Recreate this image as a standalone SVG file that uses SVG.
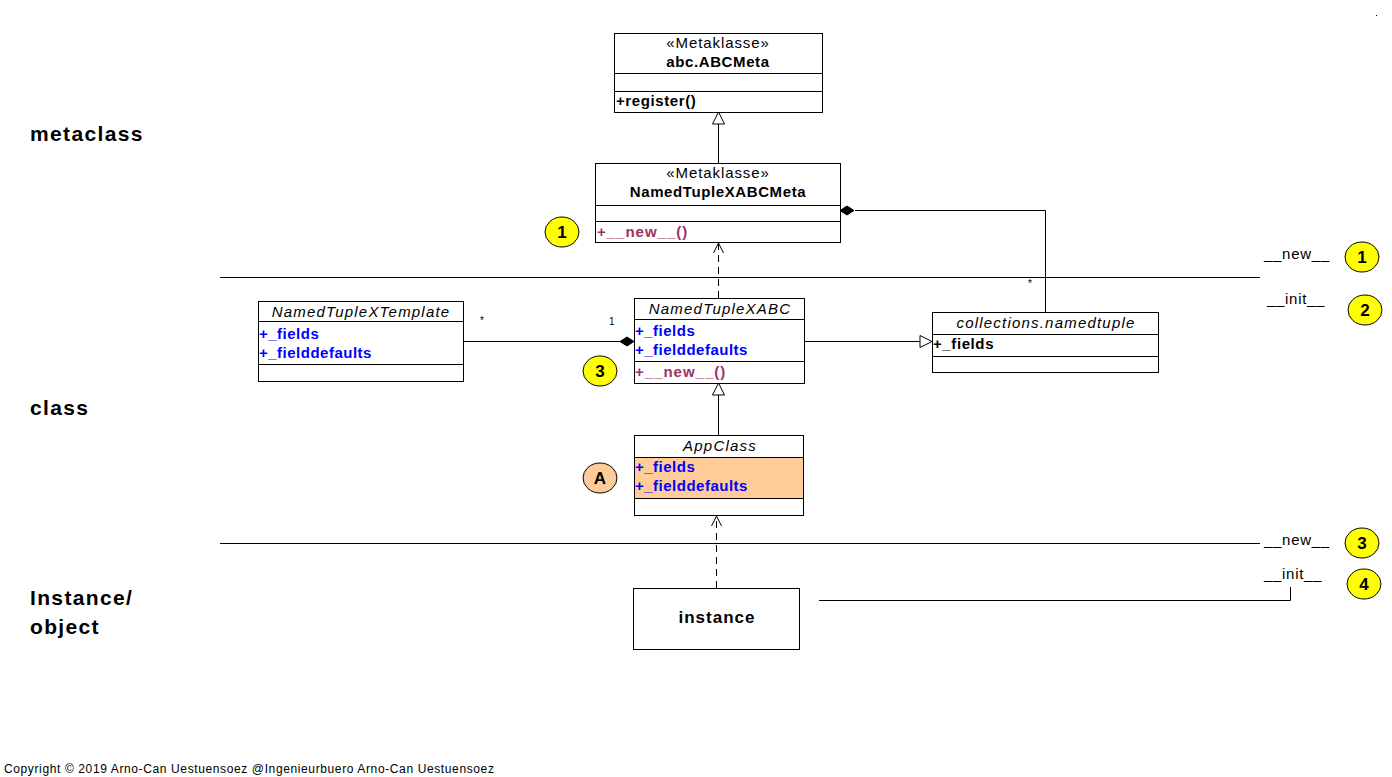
<svg xmlns="http://www.w3.org/2000/svg" width="1392" height="777" viewBox="0 0 1392 777">
<defs>
<style>
text{font-family:"Liberation Sans",Arial,sans-serif;fill:#000}
.box{fill:#fff;stroke:#000;stroke-width:1}
.ln{fill:none;stroke:#000;stroke-width:1}
.dash{fill:none;stroke:#000;stroke-width:1;stroke-dasharray:7,5}
.st{font-size:15px;letter-spacing:0.9px}
.nm{font-size:15px;font-weight:bold;letter-spacing:0.6px}
.it{font-size:15px;font-style:italic;letter-spacing:1.2px}
.attr{font-size:15px;font-weight:bold;fill:#0000FF;letter-spacing:0.5px}
.op{font-size:15px;font-weight:bold;fill:#993366;letter-spacing:1px}
.opb{font-size:15px;font-weight:bold;letter-spacing:0.6px}
.small{font-size:10px;fill:#000}
.lab{font-size:21px;font-weight:bold;letter-spacing:1.35px}
.call{font-size:15px;letter-spacing:0.7px}
.num{font-size:17px;font-weight:bold;text-anchor:middle}
.yc{fill:#FFFF00;stroke:#000;stroke-width:1}
.oc{fill:#FFCC99;stroke:#000;stroke-width:1}
.mid{text-anchor:middle}
</style>
<marker id="gen" markerWidth="16" markerHeight="16" refX="13" refY="7" orient="auto" markerUnits="userSpaceOnUse"><path d="M1,1 L13,7 L1,13 Z" fill="#fff" stroke="#000"/></marker>
<marker id="dep" markerWidth="14" markerHeight="14" refX="11" refY="6" orient="auto" markerUnits="userSpaceOnUse"><path d="M1,1 L11,6 L1,11" fill="none" stroke="#000"/></marker>
</defs>
<rect width="1392" height="777" fill="#fff"/>

<!-- section labels -->
<text class="lab" x="30" y="141">metaclass</text>
<text class="lab" x="30" y="415">class</text>
<text class="lab" x="30" y="605">Instance/</text>
<text class="lab" x="30" y="634">object</text>

<!-- separators -->
<line class="ln" x1="220" y1="277.5" x2="1260" y2="277.5"/>
<line class="ln" x1="220" y1="543.5" x2="1260" y2="543.5"/>

<g id="connectors">
<line class="ln" x1="718.5" y1="163" x2="718.5" y2="112" marker-end="url(#gen)"/>
<polyline class="ln" points="1045.5,312 1045.5,210.5 855,210.5"/>
<path d="M840,210.5 L847,206 L854,210.5 L847,215 Z" fill="#000" stroke="#000"/>
<line class="dash" x1="718.5" y1="298" x2="718.5" y2="243" marker-end="url(#dep)"/>
<line class="ln" x1="463" y1="341.5" x2="620" y2="341.5"/>
<path d="M620,341.5 L627,337 L634,341.5 L627,346 Z" fill="#000" stroke="#000"/>
<line class="ln" x1="804" y1="341.5" x2="932" y2="341.5" marker-end="url(#gen)"/>
<line class="ln" x1="718.5" y1="435" x2="718.5" y2="383" marker-end="url(#gen)"/>
<line class="dash" x1="716.5" y1="588" x2="716.5" y2="516" marker-end="url(#dep)"/>
<polyline class="ln" points="819,600.5 1290.5,600.5 1290.5,587"/>
<text class="small" x="826" y="235">1</text>
<text class="small" x="1028" y="287">*</text>
<text class="small" x="480" y="324">*</text>
<text class="small" x="609" y="325">1</text>
</g>

<g id="abcmeta">
<rect class="box" x="614.5" y="33.5" width="208" height="79"/>
<line class="ln" x1="614.5" y1="73.5" x2="822.5" y2="73.5"/>
<line class="ln" x1="614.5" y1="91.5" x2="822.5" y2="91.5"/>
<text class="st mid" x="718" y="48">«Metaklasse»</text>
<text class="nm mid" x="718" y="67">abc.ABCMeta</text>
<text class="opb" x="616" y="106">+register()</text>
</g>

<g id="ntxabcmeta">
<rect class="box" x="595.5" y="163.5" width="245" height="79"/>
<line class="ln" x1="595.5" y1="205.5" x2="840.5" y2="205.5"/>
<line class="ln" x1="595.5" y1="221.5" x2="840.5" y2="221.5"/>
<text class="st mid" x="718" y="178">«Metaklasse»</text>
<text class="nm mid" x="718" y="197">NamedTupleXABCMeta</text>
<text class="op" x="597" y="237">+__new__()</text>
</g>

<g id="circle1a">
<ellipse class="yc" cx="562" cy="232" rx="17" ry="15"/>
<text class="num" x="562" y="238">1</text>
</g>

<g id="template">
<rect class="box" x="258.5" y="301.5" width="205" height="80"/>
<line class="ln" x1="258.5" y1="321.5" x2="463.5" y2="321.5"/>
<line class="ln" x1="258.5" y1="364.5" x2="463.5" y2="364.5"/>
<text class="it mid" x="361" y="317">NamedTupleXTemplate</text>
<text class="attr" x="259" y="339">+_fields</text>
<text class="attr" x="259" y="358">+_fielddefaults</text>
</g>

<g id="ntxabc">
<rect class="box" x="634.5" y="298.5" width="170" height="85"/>
<line class="ln" x1="634.5" y1="319.5" x2="804.5" y2="319.5"/>
<line class="ln" x1="634.5" y1="361.5" x2="804.5" y2="361.5"/>
<text class="it mid" x="720" y="314">NamedTupleXABC</text>
<text class="attr" x="635" y="336">+_fields</text>
<text class="attr" x="635" y="355">+_fielddefaults</text>
<text class="op" x="635" y="377">+__new__()</text>
</g>

<g id="circle3a">
<ellipse class="yc" cx="600" cy="371" rx="17" ry="15"/>
<text class="num" x="600" y="377">3</text>
</g>

<g id="namedtuple">
<rect class="box" x="932.5" y="312.5" width="226" height="60"/>
<line class="ln" x1="932.5" y1="334.5" x2="1158.5" y2="334.5"/>
<line class="ln" x1="932.5" y1="356.5" x2="1158.5" y2="356.5"/>
<text class="it mid" x="1046" y="328">collections.namedtuple</text>
<text class="opb" x="933" y="349">+_fields</text>
</g>

<g id="appclass">
<rect class="box" x="634.5" y="435.5" width="169" height="80"/>
<rect x="634.5" y="457.5" width="169" height="41" fill="#FFCC99" stroke="#000"/>
<text class="it mid" x="720" y="451">AppClass</text>
<text class="attr" x="635" y="472">+_fields</text>
<text class="attr" x="635" y="491">+_fielddefaults</text>
</g>

<g id="circleA">
<ellipse class="oc" cx="600" cy="478" rx="17" ry="15"/>
<text class="num" x="600" y="484">A</text>
</g>

<g id="instance">
<rect class="box" x="633.5" y="588.5" width="166" height="61"/>
<text class="mid" x="717" y="623" style="font-size:17px;font-weight:bold;letter-spacing:1px">instance</text>
</g>

<g id="legend">
<text class="call" x="1264" y="259">__new__</text>
<ellipse class="yc" cx="1362" cy="257" rx="17" ry="15"/>
<text class="num" x="1362" y="263">1</text>
<text class="call" x="1267" y="304">__init__</text>
<ellipse class="yc" cx="1365" cy="310" rx="17" ry="15"/>
<text class="num" x="1365" y="316">2</text>
<text class="call" x="1264" y="545">__new__</text>
<ellipse class="yc" cx="1362" cy="543" rx="17" ry="15"/>
<text class="num" x="1362" y="549">3</text>
<text class="call" x="1264" y="579">__init__</text>
<ellipse class="yc" cx="1364" cy="584" rx="17" ry="15"/>
<text class="num" x="1364" y="590">4</text>
</g>

<rect x="1376" y="15" width="1" height="1" fill="#000"/>
<text x="4" y="773" style="font-size:12px;letter-spacing:0.62px">Copyright © 2019 Arno-Can Uestuensoez @Ingenieurbuero Arno-Can Uestuensoez</text>
</svg>
